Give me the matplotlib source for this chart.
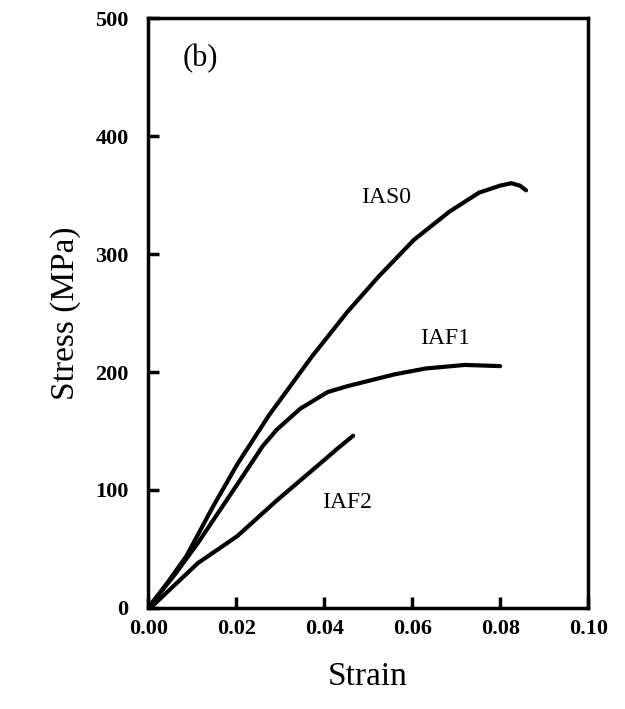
import numpy as np
import matplotlib.pyplot as plt

plt.rcParams['font.family'] = ['Liberation Serif', 'DejaVu Serif']

# stress-strain curves
ias0_strain = [0.0, 0.0045, 0.0087, 0.0149, 0.0203, 0.0274, 0.0372, 0.0453, 0.0524, 0.0604, 0.0685, 0.0752, 0.0800, 0.0825, 0.0845, 0.0859]
ias0_stress = [0, 22, 44, 87, 122, 163, 213, 251, 281, 312, 336, 352, 358, 360, 358, 354]

iaf1_strain = [0.0, 0.0060, 0.0113, 0.0203, 0.0260, 0.0292, 0.0346, 0.0408, 0.0453, 0.056, 0.0631, 0.072, 0.080]
iaf1_stress = [0, 28, 55, 105, 137, 151, 169, 183, 188, 198, 203, 206, 205]

iaf2_strain = [0.0005, 0.0113, 0.0203, 0.0292, 0.0399, 0.0430, 0.0466]
iaf2_stress = [0, 38, 61, 91, 125, 135, 146]

xticks = [0.00, 0.02, 0.04, 0.06, 0.08, 0.10]
yticks = [0, 100, 200, 300, 400, 500]

fig = plt.figure(figsize=(6.25, 7.09), dpi=100)
ax = fig.add_axes([0.237, 0.1425, 0.704, 0.832])

for xs, ys in [(ias0_strain, ias0_stress), (iaf1_strain, iaf1_stress), (iaf2_strain, iaf2_stress)]:
    ax.plot(xs, ys, color='black', lw=3.0, solid_capstyle='round', solid_joinstyle='round')

ax.text(0.0542, 348, 'IAS0', fontsize=17, va='center', ha='center')
ax.text(0.0676, 228, 'IAF1', fontsize=17, va='center', ha='center')
ax.text(0.0453, 89, 'IAF2', fontsize=17, va='center', ha='center')
ax.text(0.0118, 466, '(b)', fontsize=22, va='center', ha='center')

ax.set_xlim(0, 0.10)
ax.set_ylim(0, 500)
ax.set_xticks(xticks)
ax.set_yticks(yticks)
ax.set_xticklabels(['%.2f' % v for v in xticks], fontweight='bold', fontsize=16)
ax.set_yticklabels([str(v) for v in yticks], fontweight='bold', fontsize=16)
ax.tick_params(direction='in', length=8, width=2.5, pad=8)
ax.tick_params(axis='y', pad=14)
for s in ax.spines.values():
    s.set_linewidth(2.5)

ax.set_xlabel('Strain', fontsize=24, labelpad=16)
ax.set_ylabel('Stress (MPa)', fontsize=24, labelpad=10)

fig.savefig('out.png', dpi=100)
